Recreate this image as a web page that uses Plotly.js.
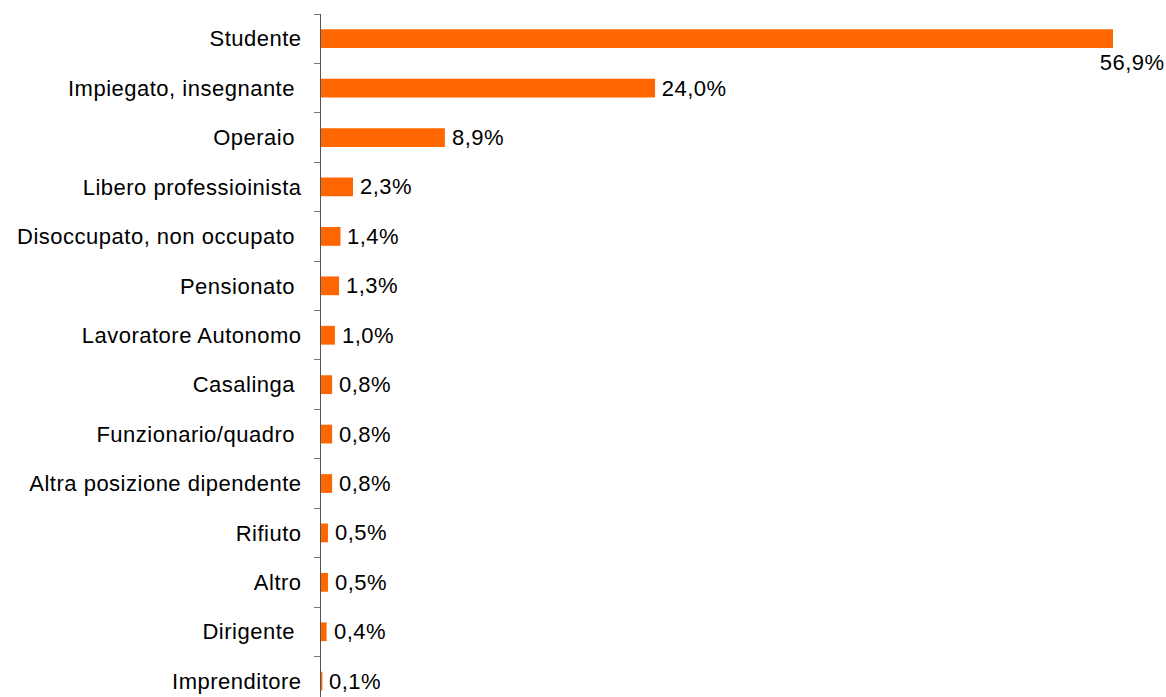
<!DOCTYPE html>
<html>
<head>
<meta charset="utf-8">
<script src="https://cdn.plot.ly/plotly-3.0.1.min.js"></script>
<style>
html,body{margin:0;padding:0;background:#fff;}
#chart{width:1166px;height:697px;}
#chart .ytick text, #chart .annotation-text{letter-spacing:0.5px;}
</style>
</head>
<body>
<div id="chart"></div>
<script>
const categories = [
  "Studente",
  "Impiegato, insegnante ",
  "Operaio ",
  "Libero professioinista",
  "Disoccupato, non occupato ",
  "Pensionato ",
  "Lavoratore Autonomo",
  "Casalinga ",
  "Funzionario/quadro ",
  "Altra posizione dipendente",
  "Rifiuto",
  "Altro",
  "Dirigente ",
  "Imprenditore"
];
const values = [56.9, 24.0, 8.9, 2.3, 1.4, 1.3, 1.0, 0.8, 0.8, 0.8, 0.5, 0.5, 0.4, 0.1];
const valueLabels = ["56,9%", "24,0%", "8,9%", "2,3%", "1,4%", "1,3%", "1,0%", "0,8%", "0,8%", "0,8%", "0,5%", "0,5%", "0,4%", "0,1%"];

const FONT = "Liberation Sans, Arial, Helvetica, sans-serif";
const FS = 22;

const annotations = values.map((v, i) => {
  const big = i === 0;
  return {
    x: v, y: categories[i], xref: 'x', yref: 'y',
    text: valueLabels[i], showarrow: false,
    xanchor: big ? 'right' : 'left',
    yanchor: 'middle',
    xshift: big ? 52 : 6,
    yshift: big ? -24 : 0,
    font: {family: FONT, size: FS, color: '#000'}
  };
});

const trace = {
  type: 'bar', orientation: 'h',
  x: values, y: categories,
  marker: {color: '#FF6600'},
  hoverinfo: 'none'
};

const layout = {
  width: 1166, height: 697,
  margin: {l: 321, r: 0, t: 13.5, b: 0, pad: 0},
  paper_bgcolor: '#fff', plot_bgcolor: '#fff',
  showlegend: false,
  bargap: 0.62,
  font: {family: FONT, size: FS, color: '#000'},
  xaxis: {
    range: [0, 56.9 * 845 / 792],
    visible: false, fixedrange: true
  },
  yaxis: {
    type: 'category',
    range: [13.32, -0.5],
    showline: true, linecolor: '#555', linewidth: 1,
    showgrid: false, zeroline: false,
    ticks: 'outside', ticklen: 6, tickcolor: '#777',
    tickson: 'boundaries',
    ticklabelstandoff: 14,
    tickfont: {family: FONT, size: FS, color: '#000'},
    fixedrange: true
  },
  annotations: annotations
};

Plotly.newPlot('chart', [trace], layout, {displayModeBar: false, staticPlot: true});
</script>
</body>
</html>
